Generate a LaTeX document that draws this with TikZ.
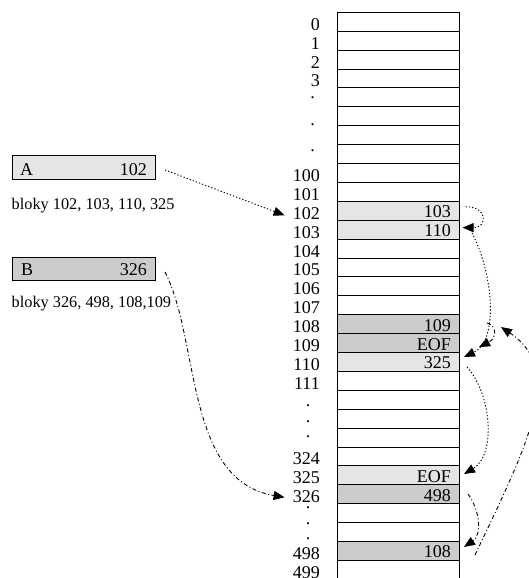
\documentclass[tikz,border=0pt]{standalone}
\usepackage{fontspec}
\setmainfont{Liberation Serif}
\usetikzlibrary{arrows.meta}
\definecolor{lightA}{gray}{0.9}
\definecolor{darkB}{gray}{0.8}
\begin{document}
\begin{tikzpicture}[x=1pt,y=-1pt,
  cell/.style={draw, line width=0.9pt, minimum width=122.5pt, minimum height=18.9pt, inner sep=0pt, outer sep=0pt, anchor=north west},
  big/.style={font=\fontsize{18}{18}\selectfont, inner sep=0pt},
  rowlbl/.style={big, anchor=base east},
  val/.style={big, anchor=base east},
  small/.style={font=\fontsize{16.3}{16}\selectfont, inner sep=0pt, anchor=base west},
  filebox/.style={draw, line width=0.9pt, minimum width=143pt, inner sep=0pt, outer sep=0pt, anchor=north west},
  adot/.style={line width=0.9pt, dash pattern=on 1.3pt off 2pt, -{Triangle[length=11pt,width=9pt]}},
  bdash/.style={line width=0.9pt, dash pattern=on 4pt off 2.5pt on 1pt off 2.5pt, -{Triangle[length=11pt,width=9pt]}},
]
\useasboundingbox (0,0) rectangle (529,578);
\clip (0,0) rectangle (529,578);

% table rows
\foreach \k/\f in {0/white,1/white,2/white,3/white,4/white,5/white,6/white,7/white,8/white,9/white,
  10/lightA,11/lightA,12/white,13/white,14/white,15/white,16/darkB,17/darkB,18/lightA,19/white,
  20/white,21/white,22/white,23/white,24/lightA,25/darkB,26/white,27/white,28/darkB,29/white}
  \node[cell, fill=\f] (r\k) at (337, {12.3+18.9*\k}) {};

% row labels
\foreach \k/\t in {0/0,1/1,2/2,3/3,8/100,9/101,10/102,11/103,12/104,13/105,14/106,15/107,
  16/108,17/109,18/110,19/111,23/324,24/325,25/326,28/498,29/499}
  \node[rowlbl] (l\k) at (320, {12.3+18.9*(\k+1)-1}) {\t};

% dots
\node[big, anchor=base] (d1) at (312.7,99) {.};
\node[big, anchor=base] (d2) at (312.7,125) {.};
\node[big, anchor=base] (d3) at (312.7,151) {.};
\node[big, anchor=base] (d4) at (308,406) {.};
\node[big, anchor=base] (d5) at (308,422) {.};
\node[big, anchor=base] (d6) at (308,437) {.};
\node[big, anchor=base] (d7) at (308,508) {.};
\node[big, anchor=base] (d8) at (308,524) {.};
\node[big, anchor=base] (d9) at (308,539) {.};

% cell values
\foreach \k/\t in {10/103,11/110,16/109,17/EOF,18/325,24/EOF,25/498,28/108}
  \node[val] (v\k) at (451, {12.3+18.9*(\k+1)-2.5}) {\t};

% file A
\node[filebox, fill=lightA, minimum height=24pt] (A) at (12,155) {};
\node[big, anchor=base west] (Aname) at (20,175.5) {A};
\node[big, anchor=base east] (Anum) at (147,175.5) {102};
\node[small] (Atext) at (11.5,209.3) {bloky 102, 103, 110, 325};

% file B
\node[filebox, fill=darkB, minimum height=23pt] (B) at (12,257) {};
\node[big, anchor=base west] (Bname) at (21,275.7) {B};
\node[big, anchor=base east] (Bnum) at (147,275.7) {326};
\node[small] (Btext) at (11.5,307.7) {bloky 326, 498, 108,109};

% chain A
\draw[adot] ([shift={(10,3)}]A.east) -- ([shift={(-8,2)}]l10.west);
\draw[adot] ([shift={(6,-4)}]r10.east) .. controls +(23,0) and +(25,0) .. ([shift={(3,-2)}]r11.east);
\draw[adot] ([shift={(12.5,3.35)}]r11.east) .. controls +(20,37) and +(36,-17) .. ([shift={(4.5,-5)}]r18.east);
\draw[adot] ([shift={(7.5,5)}]r18.east) .. controls +(25,28) and +(32,-19) .. ([shift={(4.5,-1.35)}]r24.east);

% chain B
\draw[bdash] ([shift={(10,3.5)}]B.east) .. controls +(35,68) and +(-100,-17) .. ([shift={(-8,0.5)}]l25.west);
\draw[bdash] ([shift={(8.5,-0.25)}]r25.east) .. controls +(12,16) and +(18,-12) .. ([shift={(4.5,-4)}]r28.east);
\draw[bdash] ([shift={(15.5,4)}]r28.east) .. controls +(55,-115) and +(64,43) .. ([shift={(41.5,2.85)}]r16.east);
\draw[bdash] ([shift={(27.5,-1.15)}]r16.east) .. controls +(10,3) and +(18,-9) .. ([shift={(19.5,4)}]r17.east);
\end{tikzpicture}
\end{document}
